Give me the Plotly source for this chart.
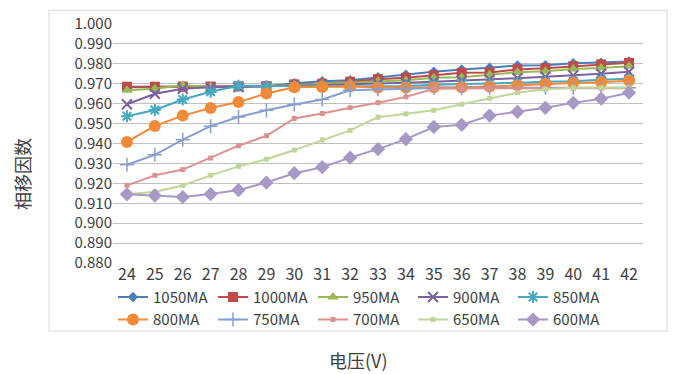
import plotly.graph_objects as go

# Supply voltage (V)
voltage = list(range(24, 43))

# Phase-shift factor per drive current
ma1050 = [0.9682, 0.9683, 0.9683, 0.9684, 0.9685, 0.9688, 0.9703, 0.9713, 0.9718, 0.9733,
          0.9745, 0.9760, 0.9772, 0.9780, 0.9792, 0.9793, 0.9803, 0.9806, 0.9812]
ma1000 = [0.9685, 0.9685, 0.9686, 0.9686, 0.9687, 0.9688, 0.9697, 0.9700, 0.9710, 0.9723,
          0.9730, 0.9742, 0.9755, 0.9757, 0.9772, 0.9778, 0.9788, 0.9797, 0.9805]
ma950 = [0.9667, 0.9675, 0.9692, 0.9685, 0.9682, 0.9688, 0.9695, 0.9700, 0.9705, 0.9713,
         0.9717, 0.9730, 0.9733, 0.9745, 0.9758, 0.9763, 0.9774, 0.9779, 0.9788]
ma900 = [0.9597, 0.9650, 0.9675, 0.9682, 0.9684, 0.9686, 0.9690, 0.9693, 0.9697, 0.9700,
         0.9705, 0.9710, 0.9715, 0.9722, 0.9728, 0.9735, 0.9742, 0.9750, 0.9760]
ma850 = [0.9537, 0.9568, 0.9621, 0.9660, 0.9690, 0.9688, 0.9688, 0.9688, 0.9688, 0.9688,
         0.9689, 0.9695, 0.9698, 0.9700, 0.9705, 0.9710, 0.9713, 0.9720, 0.9725]
ma800 = [0.9408, 0.9488, 0.9540, 0.9578, 0.9608, 0.9651, 0.9682, 0.9684, 0.9686, 0.9681,
         0.9681, 0.9683, 0.9683, 0.9686, 0.9693, 0.9700, 0.9704, 0.9708, 0.9715]
ma750 = [0.9293, 0.9343, 0.9419, 0.9487, 0.9533, 0.9567, 0.9596, 0.9621, 0.9667, 0.9672,
         0.9676, 0.9679, 0.9679, 0.9680, 0.9680, 0.9680, 0.9680, 0.9680, 0.9680]
ma700 = [0.9190, 0.9240, 0.9269, 0.9327, 0.9389, 0.9439, 0.9526, 0.9551, 0.9580, 0.9605,
         0.9634, 0.9675, 0.9677, 0.9677, 0.9677, 0.9677, 0.9677, 0.9677, 0.9677]
ma650 = [0.9145, 0.9158, 0.9189, 0.9240, 0.9285, 0.9321, 0.9367, 0.9418, 0.9466, 0.9532,
         0.9549, 0.9567, 0.9597, 0.9627, 0.9655, 0.9672, 0.9680, 0.9680, 0.9680]
ma600 = [0.9145, 0.9139, 0.9131, 0.9146, 0.9166, 0.9204, 0.9251, 0.9281, 0.9329, 0.9372,
         0.9422, 0.9483, 0.9494, 0.9540, 0.9559, 0.9579, 0.9604, 0.9625, 0.9655]

y_ticks = [0.880, 0.890, 0.900, 0.910, 0.920, 0.930, 0.940, 0.950, 0.960, 0.970, 0.980, 0.990, 1.000]

series = [
    ("1050MA", ma1050, "#4A7EBB", "diamond", 8, 0),
    ("1000MA", ma1000, "#BE4B48", "square", 10, 0),
    ("950MA", ma950, "#98B954", "triangle-up", 10, 0),
    ("900MA", ma900, "#7D60A0", "x-thin", 10, 2),
    ("850MA", ma850, "#46AAC5", "asterisk", 10, 2),
    ("800MA", ma800, "#F38A3A", "circle", 12, 0),
    ("750MA", ma750, "#859FD0", "cross-thin", 10, 1.5),
    ("700MA", ma700, "#DB918F", "square", 5, 0),
    ("650MA", ma650, "#BFD698", "square", 5, 0),
    ("600MA", ma600, "#A898C6", "diamond", 11, 0),
]

FONT = "Noto Sans CJK SC"
fig = go.Figure()
for name, vals, color, symbol, size, lw in series:
    fig.add_trace(go.Scatter(
        x=voltage, y=vals, name=name, mode="lines+markers",
        line=dict(color=color, width=2),
        marker=dict(symbol=symbol, size=size, color=color,
                    line=dict(color=color, width=lw)),
    ))

W, H = 674, 374
L, R, T, B = 113, 31, 21, 111
pw, ph = W - L - R, H - T - B


def px(x):
    return (x - L) / pw


def py(y):
    return (H - B - y) / ph


fig.update_layout(
    width=W, height=H,
    margin=dict(l=L, r=R, t=T, b=B),
    paper_bgcolor="white", plot_bgcolor="white",
    font=dict(family=FONT, size=15, color="#404040"),
    showlegend=True,
    legend=dict(
        orientation="h", x=0, xanchor="left", y=py(281), yanchor="top",
        entrywidth=55, entrywidthmode="pixels",
        font=dict(family=FONT, size=15, color="#404040"),
        bgcolor="rgba(0,0,0,0)",
    ),
    xaxis=dict(
        range=[23.5, 42.5], tickmode="array", tickvals=voltage,
        ticktext=[str(v) for v in voltage],
        showgrid=False, zeroline=False, showline=False, ticks="",
        tickfont=dict(family=FONT, size=16, color="#404040"),
    ),
    yaxis=dict(
        range=[0.880, 1.000], tickmode="array", tickvals=y_ticks,
        ticktext=[f"{v:.3f}" for v in y_ticks],
        showgrid=True, gridcolor="#BFBFBF", gridwidth=1,
        zeroline=False, showline=False, ticks="",
        tickfont=dict(family=FONT, size=15, color="#404040"),
    ),
    shapes=[dict(
        type="rect", xref="paper", yref="paper",
        x0=px(49), x1=px(667), y0=py(332), y1=py(7),
        line=dict(color="#D9D9D9", width=1), fillcolor="rgba(0,0,0,0)",
        layer="below",
    )],
    annotations=[
        dict(text="相移因数", xref="paper", yref="paper", x=px(22), y=py(173),
             xanchor="center", yanchor="middle", textangle=-90, showarrow=False,
             font=dict(family=FONT, size=18, color="#404040")),
        dict(text="电压(V)", xref="paper", yref="paper", x=px(358), y=py(361),
             xanchor="center", yanchor="middle", showarrow=False,
             font=dict(family=FONT, size=18, color="#404040")),
    ],
)

fig.write_html("out.html")
